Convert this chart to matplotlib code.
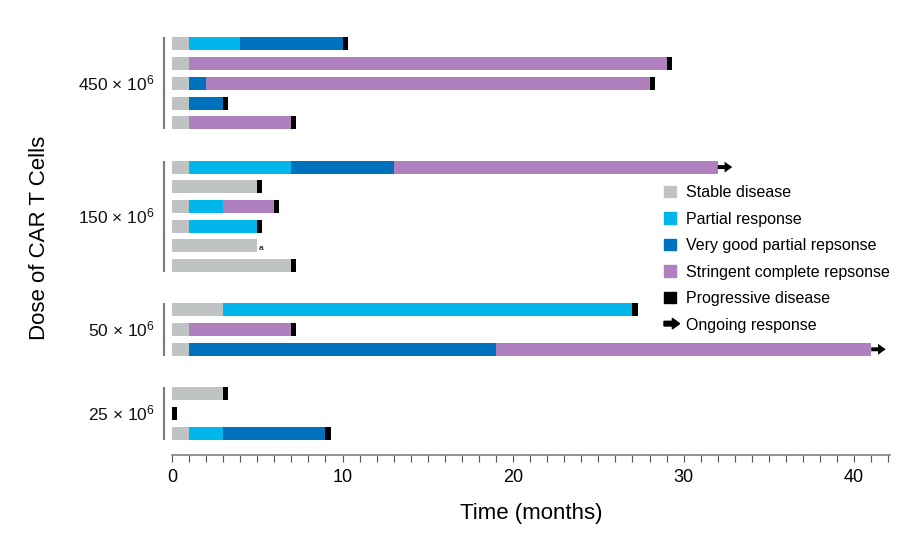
import numpy as np
import matplotlib
matplotlib.use("Agg")
import matplotlib.pyplot as plt
import matplotlib.patches as mpatches
from matplotlib.legend_handler import HandlerPatch

plt.rcParams['font.family'] = ['Liberation Sans', 'DejaVu Sans']
plt.rcParams['mathtext.default'] = 'regular'
COND = ['Liberation Sans Narrow', 'Liberation Sans', 'DejaVu Sans']

# Data: each patient is a list of (status, duration in months), from time 0
dose_labels = ['450', '150', '50', '25']

dose_450 = [
    [('SD', 1), ('PR', 3), ('VGPR', 6), ('PD', 0.3)],
    [('SD', 1), ('sCR', 28), ('PD', 0.3)],
    [('SD', 1), ('VGPR', 1), ('sCR', 26), ('PD', 0.3)],
    [('SD', 1), ('VGPR', 2), ('PD', 0.3)],
    [('SD', 1), ('sCR', 6), ('PD', 0.3)],
]
dose_150 = [
    [('SD', 1), ('PR', 6), ('VGPR', 6), ('sCR', 19)],
    [('SD', 5), ('PD', 0.3)],
    [('SD', 1), ('PR', 2), ('sCR', 3), ('PD', 0.3)],
    [('SD', 1), ('PR', 4), ('PD', 0.3)],
    [('SD', 5)],
    [('SD', 7), ('PD', 0.3)],
]
dose_50 = [
    [('SD', 3), ('PR', 24), ('PD', 0.3)],
    [('SD', 1), ('sCR', 6), ('PD', 0.3)],
    [('SD', 1), ('VGPR', 18), ('sCR', 22)],
]
dose_25 = [
    [('SD', 3), ('PD', 0.3)],
    [('PD', 0.3)],
    [('SD', 1), ('PR', 2), ('VGPR', 6), ('PD', 0.3)],
]
ongoing = {(1, 0), (2, 2)}      # (group, patient) with ongoing response
footnote_a = {(1, 4)}           # patient marked with "a"

groups = [dose_450, dose_150, dose_50, dose_25]

status_names = {
    'SD': 'Stable disease',
    'PR': 'Partial response',
    'VGPR': 'Very good partial repsonse',
    'sCR': 'Stringent complete repsonse',
    'PD': 'Progressive disease',
}
colors = {
    'SD': '#C0C3C4',
    'PR': '#00B6EA',
    'VGPR': '#0071BC',
    'sCR': '#B07FBD',
    'PD': '#000000',
}

# Layout
W, H = 909, 534
fig = plt.figure(figsize=(W / 100, H / 100), dpi=100)
ax_top, ax_bot = 25, 455
ax_left, ax_right = 172, 890
ax = fig.add_axes([ax_left / W, 1 - ax_bot / H,
                   (ax_right - ax_left) / W, (ax_bot - ax_top) / H])

group_gap = 1.25
bar_h = 0.66

y = 0.0
group_spans = []
for gi, group in enumerate(groups):
    y_first = y
    for pi, patient in enumerate(group):
        left = 0.0
        for status, dur in patient:
            ax.barh(y, dur, left=left, height=bar_h, color=colors[status],
                    linewidth=0)
            left += dur
        if (gi, pi) in ongoing:
            ax.arrow(left, y, 0.85, 0, width=0.2, head_width=0.55,
                     head_length=0.45, length_includes_head=True,
                     color='black', linewidth=0, clip_on=False)
        if (gi, pi) in footnote_a:
            ax.text(left + 0.1, y + 0.15, 'a', fontsize=6, fontweight='bold',
                    ha='left', va='center', color='#333333')
        y_last = y
        y += 1
    group_spans.append((y_first, y_last))
    y += group_gap

y_bottom = group_spans[-1][1]
px_per_row = 19.7
ax.set_ylim(y_bottom + (ax_bot - 433) / px_per_row, -(44 - ax_top) / px_per_row)
ax.set_xlim(0, 42.1)

# group brackets and labels
for (y0, y1), lab in zip(group_spans, dose_labels):
    ax.plot([-0.47, -0.47], [y0 - 0.33, y1 + 0.33], color='#7F7F7F',
            lw=1.6, clip_on=False, solid_capstyle='butt')
    ax.text(-1.0, (y0 + y1) / 2, lab + r' × 10$^{6}$', fontsize=12.5,
            ha='right', va='center', color='#111111')

# axes styling
for side in ['left', 'right', 'top']:
    ax.spines[side].set_visible(False)
ax.spines['bottom'].set_color('#7F7F7F')
ax.spines['bottom'].set_linewidth(1.2)
ax.set_yticks([])
ax.set_xticks(np.arange(0, 41, 10))
ax.set_xticks(np.arange(0, 43, 1), minor=True)
ax.tick_params(axis='x', which='both', direction='out', length=5,
               width=0.8, color='#555555', pad=5)
ax.tick_params(axis='x', which='major', labelsize=13)
for t in ax.get_xticklabels():
    t.set_family(COND)

ax.set_xlabel('Time (months)', fontsize=16, family=COND, labelpad=12)
fig.text(40 / W, 1 - 238 / H, 'Dose of CAR T Cells', rotation=90,
         fontsize=16, family=COND, ha='center', va='center')


# legend
def make_arrow(legend, orig_handle, xdescent, ydescent, width, height, fontsize):
    return mpatches.FancyArrow(0, height / 2, width * 1.3, 0, width=height * 0.4,
                               head_width=height * 0.9, head_length=width * 0.6,
                               length_includes_head=True, color='black', lw=0)


handles = [mpatches.Patch(color=colors[s], label=status_names[s])
           for s in ['SD', 'PR', 'VGPR', 'sCR', 'PD']]
arrow_handle = mpatches.FancyArrow(0, 0, 1, 0, color='black',
                                   label='Ongoing response')
handles.append(arrow_handle)
fig.legend(handles=handles, loc='upper left',
           bbox_to_anchor=(664 / W, 1 - 185 / H), frameon=False,
           fontsize=11.5, handlelength=0.75, handleheight=0.75,
           handletextpad=0.6, labelspacing=0.72, borderpad=0,
           borderaxespad=0,
           handler_map={mpatches.FancyArrow: HandlerPatch(patch_func=make_arrow)})

fig.savefig('out.png', dpi=100)
